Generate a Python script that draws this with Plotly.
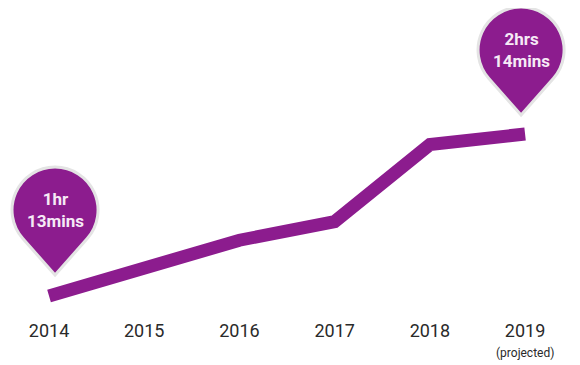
import math
import plotly.graph_objects as go

# ---- data ----
years = ["2014", "2015", "2016", "2017", "2018", "2019"]
tick_labels = ["2014", "2015", "2016", "2017", "2018", "2019"]
sub_label = "(projected)"
sub_label_index = 5
minutes = [73, 83, 94, 101, 130, 134]
pin_labels = ["1hr<br>13mins", "2hrs<br>14mins"]
pin_index = [0, 5]

PURPLE = "#8C1C8E"
x_idx = list(range(len(years)))


def pin_path(tipx, tipy, R=43.0, d=65.0):
    cx, cy = tipx, tipy + d
    alpha = math.acos(R / d)
    a0 = -math.pi / 2 + alpha
    a1 = -math.pi / 2 - alpha + 2 * math.pi
    n = 4
    step = (a1 - a0) / n
    k = 4.0 / 3.0 * math.tan(step / 4)
    pts = lambda a: (cx + R * math.cos(a), cy + R * math.sin(a))
    p = f"M{tipx:.2f},{tipy:.2f} "
    sx, sy = pts(a0)
    p += f"L{sx:.2f},{sy:.2f} "
    for i in range(n):
        s = a0 + i * step
        e = s + step
        x0, y0 = pts(s)
        x3, y3 = pts(e)
        x1 = x0 - k * R * math.sin(s)
        y1 = y0 + k * R * math.cos(s)
        x2 = x3 + k * R * math.sin(e)
        y2 = y3 - k * R * math.cos(e)
        p += f"C{x1:.2f},{y1:.2f} {x2:.2f},{y2:.2f} {x3:.2f},{y3:.2f} "
    p += "Z"
    return p


fig = go.Figure()
fig.add_trace(go.Scatter(
    x=x_idx, y=minutes, mode="lines",
    line=dict(color=PURPLE, width=13),
    hoverinfo="skip", showlegend=False,
))

pin_offsets = [(6, 21), (-4, 19)]
for (i, lab, (dx, dy)) in zip(pin_index, pin_labels, pin_offsets):
    fig.add_shape(
        type="path", xref="x", yref="y",
        xsizemode="pixel", ysizemode="pixel",
        xanchor=x_idx[i], yanchor=minutes[i],
        path=pin_path(dx, dy),
        fillcolor=PURPLE, line=dict(color="#e4e4e4", width=3),
        layer="above",
    )
    fig.add_annotation(
        x=x_idx[i], y=minutes[i], xref="x", yref="y",
        text=f"<b>{lab}</b>", showarrow=False,
        xshift=dx, yshift=dy + 65,
        font=dict(family="Roboto", size=17, color="#f6eaf6"),
        align="center",
    )

fig.add_annotation(
    x=x_idx[sub_label_index], y=0, xref="x", yref="paper",
    text=sub_label, showarrow=False, yanchor="middle", yshift=-35,
    font=dict(family="Roboto", size=12, color="#2a2a2a"),
)

fig.update_layout(
    width=580, height=365,
    margin=dict(l=0, r=0, t=0, b=55),
    paper_bgcolor="white", plot_bgcolor="white",
    xaxis=dict(
        range=[-0.431, 5.661], tickmode="array", tickvals=x_idx,
        ticktext=tick_labels, showgrid=False, zeroline=False,
        showline=False, ticks="",
        tickfont=dict(family="Roboto", size=18, color="#2a2a2a"),
    ),
    yaxis=dict(range=[64.72, 181.44], visible=False, showgrid=False,
               zeroline=False),
)

fig.write_html("out.html")
